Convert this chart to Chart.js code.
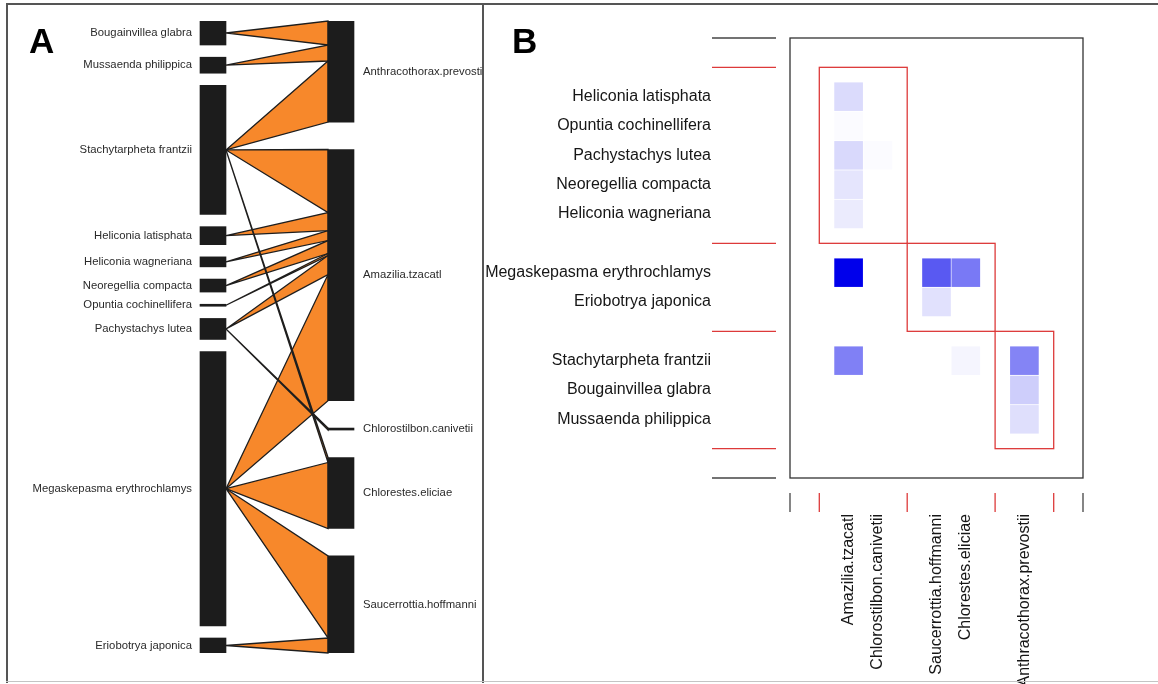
<!DOCTYPE html>
<html>
<head>
<meta charset="utf-8">
<script src="https://cdn.jsdelivr.net/npm/chart.js@4.4.1/dist/chart.umd.min.js"></script>
<style>
  html, body { margin: 0; padding: 0; background: #fff; }
  #wrap { position: relative; width: 1158px; height: 684px; overflow: hidden; background: #fff; }
  #wrap canvas { position: absolute; top: 0; }
  #webA { left: 0; }
  #webB { left: 485px; }
  .rule { position: absolute; background: #555; }
</style>
</head>
<body>
<div id="wrap">
  <canvas id="webA" width="483" height="684"></canvas>
  <canvas id="webB" width="673" height="684"></canvas>
  <div class="rule" style="left:6px;top:3px;width:1152px;height:2px"></div>
  <div class="rule" style="left:6px;top:3px;width:2px;height:680px"></div>
  <div class="rule" style="left:482px;top:3px;width:2px;height:680px"></div>
  <div class="rule" style="left:6px;top:681px;width:1152px;height:1px;background:#c4c4c4"></div>
</div>
<script>
// ---- data ---------------------------------------------------------------
const plants = [
  'Bougainvillea glabra', 'Mussaenda philippica', 'Stachytarpheta frantzii',
  'Heliconia latisphata', 'Heliconia wagneriana', 'Neoregellia compacta',
  'Opuntia cochinellifera', 'Pachystachys lutea', 'Megaskepasma erythrochlamys',
  'Eriobotrya japonica'
];
const birds = [
  'Anthracothorax.prevostii', 'Amazilia.tzacatl', 'Chlorostilbon.canivetii',
  'Chlorestes.eliciae', 'Saucerrottia.hoffmanni'
];
// visits per plant (rows, plant order) to each bird (columns, bird order)
const visits = [
  [24,   0, 0,  0,  0],
  [16,   0, 0,  0,  0],
  [61,  63, 0,  5,  0],
  [ 0,  18, 0,  0,  0],
  [ 0,  10, 0,  0,  0],
  [ 0,  13, 0,  0,  0],
  [ 0,   2, 0,  0,  0],
  [ 0,  19, 2,  0,  0],
  [ 0, 126, 0, 66, 82],
  [ 0,   0, 0,  0, 15]
];
// modules found in the network (plants and birds listed in matrix order)
const modulePlants = [
  ['Heliconia latisphata', 'Opuntia cochinellifera', 'Pachystachys lutea', 'Neoregellia compacta', 'Heliconia wagneriana'],
  ['Megaskepasma erythrochlamys', 'Eriobotrya japonica'],
  ['Stachytarpheta frantzii', 'Bougainvillea glabra', 'Mussaenda philippica']
];
const moduleBirds = [
  ['Amazilia.tzacatl', 'Chlorostilbon.canivetii'],
  ['Saucerrottia.hoffmanni', 'Chlorestes.eliciae'],
  ['Anthracothorax.prevostii']
];

// ---- shared styling -----------------------------------------------------
const FONT = '"Liberation Sans", Arial, sans-serif';
const ORANGE = '#f7882b';
const BOX = '#1c1c1c';
const RED = '#dd3a3a';
const BOX_W = 26;          // width of the species bars in the web
const SPAN = 1.21;         // drawn extent of each column relative to total visits

const baseOptions = {
  responsive: false,
  animation: false,
  devicePixelRatio: 1,
  events: [],
  plugins: { legend: { display: false }, tooltip: { enabled: false } }
};

// ---- panel A: bipartite web --------------------------------------------
const plantTot = visits.map(r => r.reduce((a, b) => a + b, 0));
const birdTot = birds.map((_, j) => visits.reduce((a, r) => a + r[j], 0));
const total = plantTot.reduce((a, b) => a + b, 0);
const extent = total * SPAN;

function stackBoxes(tots) {
  const gap = (extent - total) / (tots.length - 1);
  let y = 0;
  return tots.map(t => { const s = y; y += t + gap; return [s, s + t]; });
}
const plantBox = stackBoxes(plantTot);
const birdBox = stackBoxes(birdTot);

// where each link lands on its bird bar (stacked in plant order)
const links = [];
birds.forEach((b, j) => {
  let y = birdBox[j][0];
  plants.forEach((p, i) => {
    const v = visits[i][j];
    if (v > 0) {
      links.push({ plant: i, bird: j, from: y, to: y + v });
      y += v;
    }
  });
});

const webLayer = {
  id: 'webLayer',
  beforeDatasetsDraw(chart) {
    const { ctx, scales: { x, y } } = chart;
    const xl = x.getPixelForValue(0) + BOX_W / 2;
    const xr = x.getPixelForValue(1) - BOX_W / 2;
    ctx.save();
    ctx.lineJoin = 'miter';
    links.forEach(l => {
      const pb = plantBox[l.plant];
      const ya = y.getPixelForValue((pb[0] + pb[1]) / 2);
      ctx.beginPath();
      ctx.moveTo(xl, ya);
      ctx.lineTo(xr, y.getPixelForValue(l.from));
      ctx.lineTo(xr, y.getPixelForValue(l.to));
      ctx.closePath();
      ctx.fillStyle = ORANGE;
      ctx.fill();
      ctx.strokeStyle = '#1e1e1e';
      ctx.lineWidth = 1.3;
      ctx.stroke();
    });
    ctx.restore();
  },
  afterDatasetsDraw(chart) {
    const { ctx, scales: { x, y } } = chart;
    ctx.save();
    ctx.fillStyle = '#2a2a2a';
    ctx.font = '11.3px ' + FONT;
    ctx.textBaseline = 'middle';
    ctx.textAlign = 'right';
    const px0 = x.getPixelForValue(0) - BOX_W / 2 - 8;
    plants.forEach((p, i) => {
      ctx.fillText(p, px0, y.getPixelForValue((plantBox[i][0] + plantBox[i][1]) / 2));
    });
    ctx.textAlign = 'left';
    const px1 = x.getPixelForValue(1) + BOX_W / 2 + 9;
    birds.forEach((b, j) => {
      ctx.fillText(b, px1, y.getPixelForValue((birdBox[j][0] + birdBox[j][1]) / 2));
    });
    ctx.fillStyle = '#000';
    ctx.font = 'bold 35px ' + FONT;
    ctx.textAlign = 'left';
    ctx.textBaseline = 'alphabetic';
    ctx.fillText('A', 29, 53);
    ctx.restore();
  }
};

new Chart(document.getElementById('webA'), {
  type: 'bar',
  data: {
    datasets: [
      { label: 'plants', data: plants.map((p, i) => ({ x: 0, y: plantBox[i] })),
        backgroundColor: BOX, barThickness: BOX_W, grouped: false, borderWidth: 0 },
      { label: 'birds', data: birds.map((b, j) => ({ x: 1, y: birdBox[j] })),
        backgroundColor: BOX, barThickness: BOX_W, grouped: false, borderWidth: 0 }
    ]
  },
  options: Object.assign({}, baseOptions, {
    layout: { padding: { left: 149, right: 78, top: 21, bottom: 31 } },
    scales: {
      x: { type: 'linear', min: -0.5, max: 1.5, offset: false, display: false },
      y: { type: 'linear', min: 0, max: extent, reverse: true, display: false }
    }
  }),
  plugins: [webLayer]
});

// ---- panel B: module matrix --------------------------------------------
function modulePositions(groups) {
  let p = 1;
  const bounds = [1];
  const pos = {};
  groups.forEach(g => {
    g.forEach(n => { p += 1; pos[n] = p; });
    p += 1;
    bounds.push(p);
  });
  return { pos, bounds, size: p + 1 };
}
const rowsB = modulePositions(modulePlants);
const colsB = modulePositions(moduleBirds);
const maxVisits = Math.max(...visits.flat());

function shade(v) {
  const f = v / maxVisits;
  const c = Math.round(255 * (1 - f));
  const b = Math.round(255 - 20 * f);
  return `rgb(${c},${c},${b})`;
}

const cells = [], cellColors = [];
plants.forEach((p, i) => {
  birds.forEach((b, j) => {
    const v = visits[i][j];
    if (v > 0) {
      const r = rowsB.pos[p];
      cells.push({ x: colsB.pos[b], y: [r - 0.475, r + 0.475] });
      cellColors.push(shade(v));
    }
  });
});

const matrixLayer = {
  id: 'matrixLayer',
  afterDatasetsDraw(chart) {
    const { ctx, scales: { x, y } } = chart;
    const X = v => x.getPixelForValue(v);
    const Y = v => y.getPixelForValue(v);
    const left = X(0), right = X(colsB.size), top = Y(0), bottom = Y(rowsB.size);
    ctx.save();

    // module outlines
    ctx.strokeStyle = RED;
    ctx.lineWidth = 1.3;
    for (let k = 0; k < moduleBirds.length; k++) {
      const x0 = X(colsB.bounds[k]), x1 = X(colsB.bounds[k + 1]);
      const y0 = Y(rowsB.bounds[k]), y1 = Y(rowsB.bounds[k + 1]);
      ctx.strokeRect(x0, y0, x1 - x0, y1 - y0);
    }

    // frame
    ctx.strokeStyle = '#333';
    ctx.lineWidth = 1.3;
    ctx.strokeRect(left, top, right - left, bottom - top);

    // boundary marks on the left
    const rowMarks = [0].concat(rowsB.bounds, [rowsB.size]);
    rowMarks.forEach((v, k) => {
      const edge = k === 0 || k === rowMarks.length - 1;
      ctx.strokeStyle = edge ? '#444' : RED;
      ctx.lineWidth = 1.4;
      ctx.beginPath();
      ctx.moveTo(left - 78, Y(v));
      ctx.lineTo(left - 14, Y(v));
      ctx.stroke();
    });
    // boundary marks underneath
    const colMarks = [0].concat(colsB.bounds, [colsB.size]);
    colMarks.forEach((v, k) => {
      const edge = k === 0 || k === colMarks.length - 1;
      ctx.strokeStyle = edge ? '#444' : RED;
      ctx.lineWidth = 1.3;
      ctx.beginPath();
      ctx.moveTo(X(v), bottom + 15);
      ctx.lineTo(X(v), bottom + 34);
      ctx.stroke();
    });

    // plant names
    ctx.fillStyle = '#161616';
    ctx.font = '16px ' + FONT;
    ctx.textAlign = 'right';
    ctx.textBaseline = 'middle';
    modulePlants.flat().forEach(p => ctx.fillText(p, left - 79, Y(rowsB.pos[p])));

    // bird names, rotated
    moduleBirds.flat().forEach(b => {
      ctx.save();
      ctx.translate(X(colsB.pos[b]), bottom + 36);
      ctx.rotate(-Math.PI / 2);
      ctx.fillText(b, 0, 0);
      ctx.restore();
    });

    ctx.fillStyle = '#000';
    ctx.font = 'bold 35px ' + FONT;
    ctx.textAlign = 'left';
    ctx.textBaseline = 'alphabetic';
    ctx.fillText('B', 27, 53);
    ctx.restore();
  }
};

new Chart(document.getElementById('webB'), {
  type: 'bar',
  data: {
    datasets: [
      { label: 'visits', data: cells, backgroundColor: cellColors,
        barThickness: 28, borderWidth: 0, grouped: false }
    ]
  },
  options: Object.assign({}, baseOptions, {
    layout: { padding: { left: 305, right: 75, top: 38, bottom: 206 } },
    scales: {
      x: { type: 'linear', min: 0, max: colsB.size, offset: false, display: false },
      y: { type: 'linear', min: 0, max: rowsB.size, reverse: true, display: false }
    }
  }),
  plugins: [matrixLayer]
});
</script>
</body>
</html>
